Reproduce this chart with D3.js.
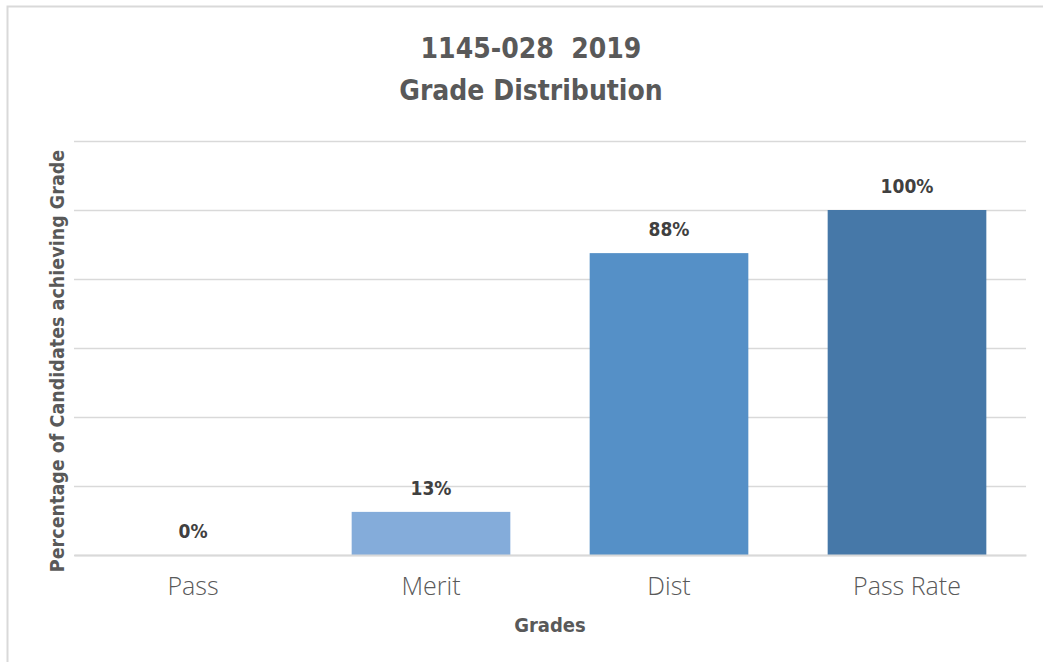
<!DOCTYPE html>
<html>
<head>
<meta charset="utf-8">
<script src="https://cdn.jsdelivr.net/npm/d3@7"></script>
<style>
  body { margin: 0; background: #fff; }
  svg { display: block; }
</style>
</head>
<body>
<div id="chart"></div>
<script>
// data
let grades = ['Pass', 'Merit', 'Dist', 'Pass Rate'];
let percents = [0, 12.5, 87.5, 100];
let labels = ['0%', '13%', '88%', '100%'];
let barColors = ['#a9c4e6', '#84acda', '#5590c7', '#4678a8'];
let yTicks = [0, 20, 40, 60, 80, 100, 120];

let width = 1043, height = 662;
let plot = {left: 74, right: 1026, top: 141, bottom: 555};
let boldFont = '"Liberation Sans Narrow", "DejaVu Sans Condensed", sans-serif';

let svg = d3.select('#chart').append('svg')
    .attr('width', width)
    .attr('height', height);

// chart border (left + top visible)
svg.append('rect')
    .attr('x', 7.5).attr('y', 6.5)
    .attr('width', width + 20).attr('height', height + 20)
    .attr('fill', '#fff')
    .attr('stroke', '#d9d9d9')
    .attr('stroke-width', 2);

let x = d3.scaleBand()
    .domain(grades)
    .range([plot.left, plot.right])
    .paddingInner(1 / 3)
    .paddingOuter(1 / 6);

let y = d3.scaleLinear()
    .domain([0, 120])
    .range([plot.bottom, plot.top]);

// gridlines
svg.append('g')
    .attr('transform', `translate(${plot.left},0)`)
    .call(d3.axisLeft(y).tickValues(yTicks).tickSize(-(plot.right - plot.left)).tickFormat(''))
    .call(g => g.select('.domain').remove())
    .call(g => g.selectAll('line').attr('stroke', '#d9d9d9').attr('stroke-width', 1.5));

// bars
svg.append('g').selectAll('rect')
    .data(grades)
    .join('rect')
    .attr('x', d => x(d))
    .attr('y', (d, i) => y(percents[i]))
    .attr('width', x.bandwidth())
    .attr('height', (d, i) => y(0) - y(percents[i]))
    .attr('fill', (d, i) => barColors[i]);

// value labels
svg.append('g').selectAll('text')
    .data(grades)
    .join('text')
    .attr('x', d => x(d) + x.bandwidth() / 2)
    .attr('y', (d, i) => y(percents[i]) - 17)
    .attr('text-anchor', 'middle')
    .attr('font-family', boldFont)
    .attr('font-weight', 'bold')
    .attr('font-size', 19)
    .attr('fill', '#404040')
    .text((d, i) => labels[i]);

// x axis
svg.append('g')
    .attr('transform', `translate(0,${plot.bottom})`)
    .call(d3.axisBottom(x).tickSize(0).tickPadding(22))
    .call(g => g.select('.domain').attr('stroke', '#d9d9d9').attr('stroke-width', 2))
    .call(g => g.selectAll('text')
        .attr('font-family', '"Open Sans", sans-serif')
        .attr('font-weight', 300)
        .attr('font-size', 25)
        .attr('fill', '#595959'));

// titles
let title = svg.append('text')
    .attr('text-anchor', 'middle')
    .attr('font-family', boldFont)
    .attr('font-weight', 'bold')
    .attr('font-size', 28)
    .attr('fill', '#595959');
title.append('tspan').attr('x', 531).attr('y', 58).attr('xml:space', 'preserve').text('1145-028  2019');
title.append('tspan').attr('x', 531).attr('y', 100).text('Grade Distribution');

svg.append('text')
    .attr('x', 550)
    .attr('y', 632)
    .attr('text-anchor', 'middle')
    .attr('font-family', boldFont)
    .attr('font-weight', 'bold')
    .attr('font-size', 20)
    .attr('fill', '#595959')
    .text('Grades');

svg.append('text')
    .attr('transform', 'translate(64,361) rotate(-90)')
    .attr('text-anchor', 'middle')
    .attr('font-family', boldFont)
    .attr('font-weight', 'bold')
    .attr('font-size', 19.5)
    .attr('fill', '#595959')
    .text('Percentage of Candidates achieving Grade');
</script>
</body>
</html>
